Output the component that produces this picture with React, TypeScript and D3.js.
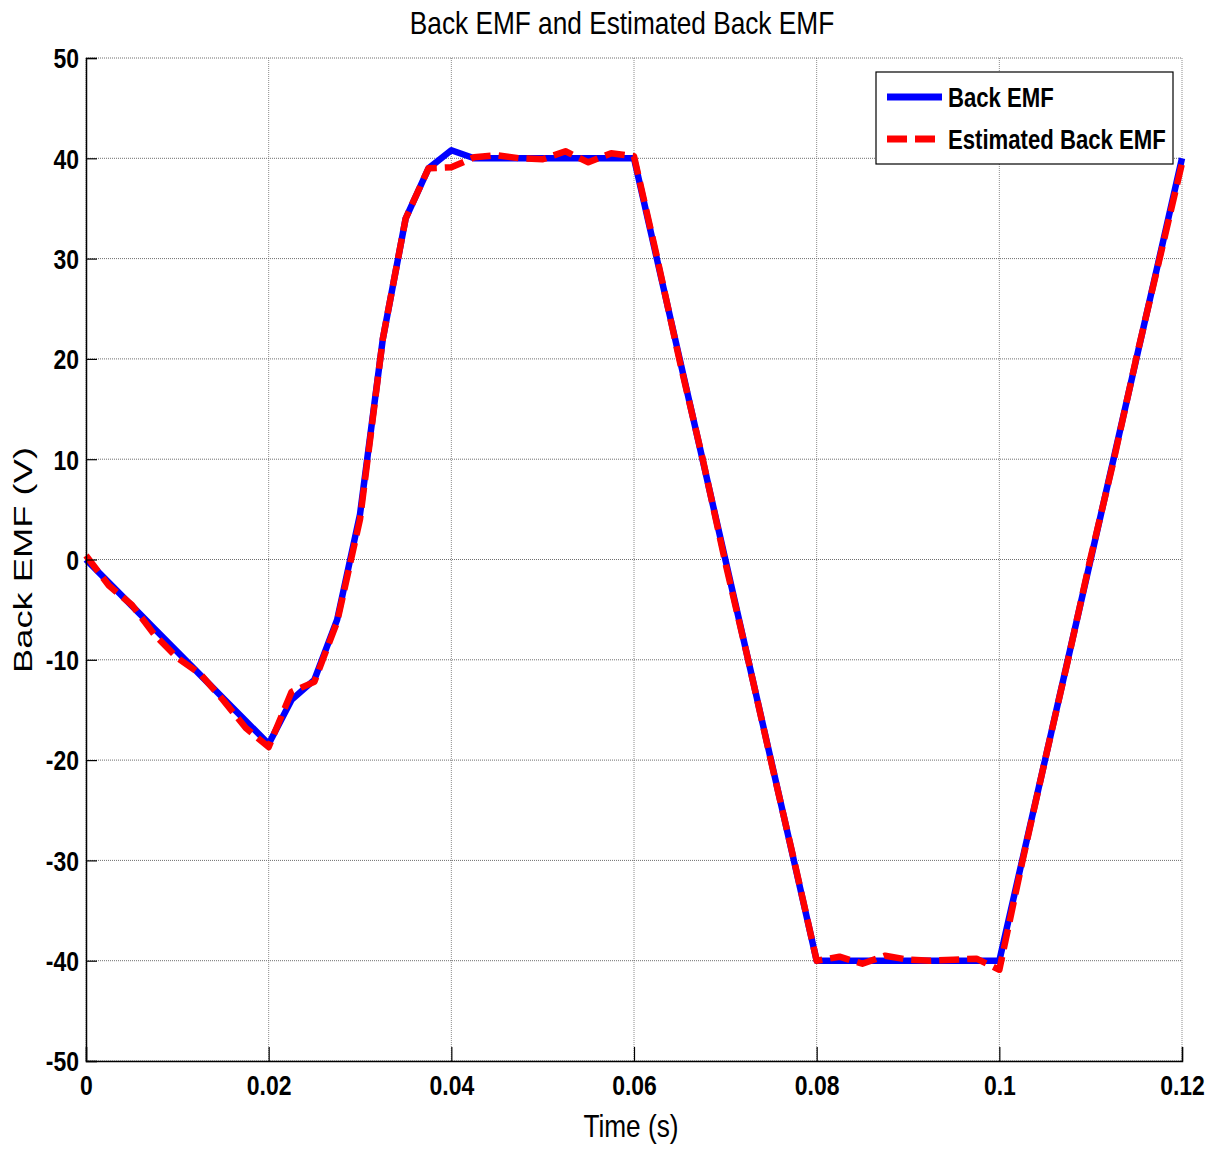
import React, { useRef, useEffect } from 'react';
import * as d3 from 'd3';

// sample times (s)
const time = [
  0, 0.0025, 0.005, 0.0075, 0.01, 0.0125, 0.015, 0.0175, 0.02, 0.0225,
  0.025, 0.0275, 0.03, 0.0325, 0.035, 0.0375, 0.04, 0.0425, 0.045, 0.0475,
  0.05, 0.0525, 0.055, 0.0575, 0.06, 0.0625, 0.065, 0.0675, 0.07, 0.0725,
  0.075, 0.0775, 0.08, 0.0825, 0.085, 0.0875, 0.09, 0.0925, 0.095, 0.0975,
  0.1, 0.1025, 0.105, 0.1075, 0.11, 0.1125, 0.115, 0.1175, 0.12,
];

const backEmf = [
  0, -2.3, -4.6, -6.9, -9.2, -11.5, -13.8, -16.1, -18.4, -14.0,
  -12.0, -6.0, 4.5, 22.0, 34.0, 39.0, 40.8, 40, 40, 40,
  40, 40, 40, 40, 40, 30, 20, 10, 0, -10,
  -20, -30, -40, -40, -40, -40, -40, -40, -40, -40,
  -40, -30, -20, -10, 0, 10, 20, 30, 40,
];

const estimatedEmf = [
  0.4, -2.6, -4.5, -7.5, -9.8, -11.4, -14.0, -16.8, -18.7, -13.2,
  -12.2, -6.2, 4.0, 22.0, 34.0, 39.0, 39.1, 40.1, 40.3, 40.0,
  39.9, 40.7, 39.6, 40.5, 40.2, 30.2, 19.8, 10.1, -0.3, -10.0,
  -20.1, -29.9, -40.0, -39.6, -40.3, -39.5, -39.9, -40.0, -39.9, -39.8,
  -40.9, -30.2, -20.0, -10.1, 0.2, 9.8, 20.1, 29.8, 39.5,
];

const xTicks = [0, 0.02, 0.04, 0.06, 0.08, 0.1, 0.12];
const yTicks = [-50, -40, -30, -20, -10, 0, 10, 20, 30, 40, 50];
const seriesNames = ['Back EMF', 'Estimated Back EMF'];

const SANS = "'Liberation Sans', Arial, sans-serif";

// squeeze text horizontally to mimic a narrow font
function narrow(sel: any, factor = 0.82) {
  sel.each(function (this: SVGTextElement) {
    const w = this.getComputedTextLength();
    d3.select(this)
      .attr('textLength', w * factor)
      .attr('lengthAdjust', 'spacingAndGlyphs');
  });
}

function App() {
  const svgRef = useRef<SVGSVGElement>(null);

  useEffect(() => {
    document.body.style.margin = '0';
    const root = d3.select(svgRef.current);
    root.selectAll('*').remove();

    const left = 86, top = 58, right = 1182, bottom = 1061;

    const x = d3.scaleLinear().domain([0, 0.12]).range([left, right]);
    const y = d3.scaleLinear().domain([-50, 50]).range([bottom, top]);

    // grid
    const grid = root.append('g');
    grid.selectAll('.vgrid')
      .data(xTicks)
      .enter().append('line')
      .attr('x1', d => x(d)).attr('x2', d => x(d))
      .attr('y1', top).attr('y2', bottom)
      .attr('stroke', '#8c8c8c')
      .attr('stroke-width', 1)
      .attr('stroke-dasharray', '1,1');
    grid.selectAll('.hgrid')
      .data(yTicks)
      .enter().append('line')
      .attr('x1', left).attr('x2', right)
      .attr('y1', d => y(d)).attr('y2', d => y(d))
      .attr('stroke', '#6e6e6e')
      .attr('stroke-width', 1)
      .attr('stroke-dasharray', '1,1');

    const rows = time.map((t, i) => ({ t, a: backEmf[i], b: estimatedEmf[i] }));

    const lineA = d3.line<any>().x(d => x(d.t)).y(d => y(d.a));
    const lineB = d3.line<any>().x(d => x(d.t)).y(d => y(d.b));

    root.append('path')
      .datum(rows)
      .attr('fill', 'none')
      .attr('stroke', '#0000ff')
      .attr('stroke-width', 6.5)
      .attr('stroke-linejoin', 'round')
      .attr('d', lineA);

    root.append('path')
      .datum(rows)
      .attr('fill', 'none')
      .attr('stroke', '#ff0000')
      .attr('stroke-width', 6.5)
      .attr('stroke-dasharray', '20,8')
      .attr('stroke-linejoin', 'round')
      .attr('d', lineB);

    // axes
    const yAxis = root.append('g')
      .attr('transform', `translate(${left},0)`)
      .call(d3.axisLeft(y).tickValues(yTicks).tickSize(-11).tickPadding(7)
        .tickFormat(d => String(d)));
    const xAxis = root.append('g')
      .attr('transform', `translate(0,${bottom})`)
      .call(d3.axisBottom(x).tickValues(xTicks).tickSize(-14).tickPadding(28)
        .tickFormat(d => String(+d)));

    [yAxis, xAxis].forEach(ax => {
      ax.select('.domain').attr('stroke', '#000').attr('stroke-width', 1.5);
      ax.selectAll('.tick line').attr('stroke', '#000').attr('stroke-width', 1.2);
      ax.selectAll('.tick text')
        .attr('fill', '#000')
        .style('font-family', SANS)
        .style('font-weight', 'bold')
        .style('font-size', '28px');
    });
    yAxis.selectAll('.tick text').attr('dy', '0.35em');
    xAxis.selectAll('.tick text').attr('dy', '0.2em');
    narrow(yAxis.selectAll('.tick text'));
    narrow(xAxis.selectAll('.tick text'));

    // title and labels
    const title = root.append('text')
      .attr('x', 622).attr('y', 34)
      .attr('text-anchor', 'middle')
      .style('font-family', SANS)
      .style('font-size', '32px')
      .text('Back EMF and Estimated Back EMF');
    narrow(title);

    const xLabel = root.append('text')
      .attr('x', 631).attr('y', 1137)
      .attr('text-anchor', 'middle')
      .style('font-family', SANS)
      .style('font-size', '32px')
      .text('Time (s)');
    narrow(xLabel);

    root.append('text')
      .attr('transform', 'translate(32,560) rotate(-90)')
      .attr('text-anchor', 'middle')
      .attr('textLength', 226)
      .attr('lengthAdjust', 'spacingAndGlyphs')
      .style('font-family', SANS)
      .style('font-size', '25px')
      .text('Back EMF  (V)');

    // legend
    const legend = root.append('g');
    legend.append('rect')
      .attr('x', 876).attr('y', 72)
      .attr('width', 297).attr('height', 92)
      .attr('fill', '#fff')
      .attr('stroke', '#000')
      .attr('stroke-width', 1.2);

    const legendItems = [
      { name: seriesNames[0], color: '#0000ff', dash: null, y: 97 },
      { name: seriesNames[1], color: '#ff0000', dash: '20,8', y: 139 },
    ];
    legendItems.forEach(item => {
      legend.append('line')
        .attr('x1', 887).attr('x2', 942)
        .attr('y1', item.y).attr('y2', item.y)
        .attr('stroke', item.color)
        .attr('stroke-width', 7)
        .attr('stroke-dasharray', item.dash);
      const t = legend.append('text')
        .attr('x', 948).attr('y', item.y + 10)
        .style('font-family', SANS)
        .style('font-weight', 'bold')
        .style('font-size', '27px')
        .text(item.name);
      narrow(t);
    });
  }, []);

  return (
    <svg ref={svgRef} width={1213} height={1149} style={{ display: 'block', background: '#fff' }}></svg>
  );
}

export default App;
